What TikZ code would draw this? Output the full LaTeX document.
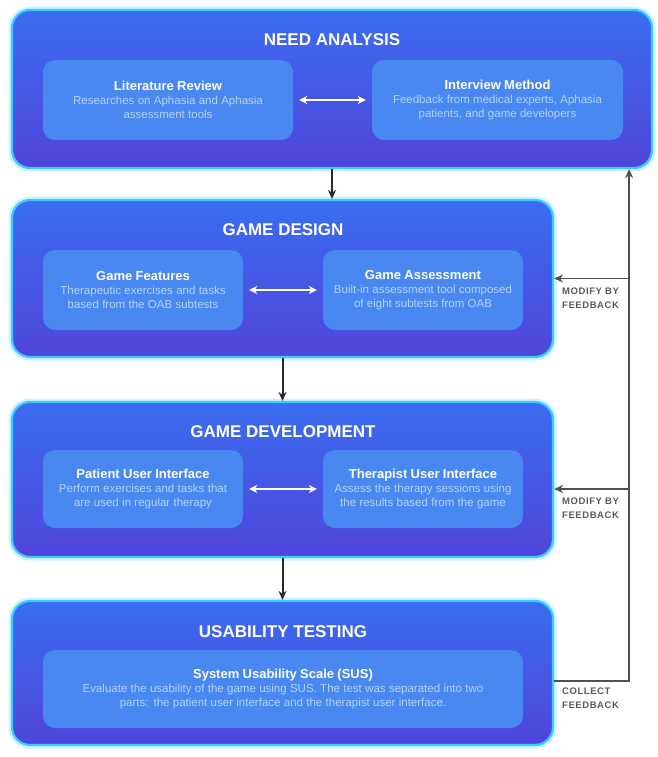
\documentclass[tikz,border=0pt]{standalone}
\usepackage{fontspec}
\setmainfont{Liberation Sans}
\usetikzlibrary{arrows.meta}
\definecolor{otop}{HTML}{3A6DF0}
\definecolor{obot}{HTML}{5044DA}
\definecolor{oborder}{HTML}{38CCFF}
\definecolor{ifill}{HTML}{4888F0}
\definecolor{desc}{HTML}{B4D3FF}
\definecolor{arr}{HTML}{2A2A2A}
\definecolor{fbc}{HTML}{505050}
\definecolor{lbl}{HTML}{5A5A5A}
\newcommand{\ibox}[2]{{\fontsize{13}{15}\selectfont\bfseries #1\par}\vspace{0.5pt}{\fontsize{11.5}{13.5}\selectfont\color{desc}#2\par}}
\tikzset{
 outer/.style={rounded corners=18pt, top color=otop, bottom color=obot, draw=oborder, line width=2.2pt,
   preaction={draw=oborder!70, line width=7pt, opacity=0.35}},
 inner/.style={rounded corners=12pt, fill=ifill, inner sep=0pt, align=center, text=white},
 otitle/.style={text=white, font=\fontsize{17}{20}\selectfont\bfseries},
 darr/.style={{Stealth[length=8pt,width=8pt]}-{Stealth[length=8pt,width=8pt]}, white, line width=2pt, shorten <=6pt, shorten >=6pt},
 varr/.style={-{Stealth[length=9pt,width=8pt]}, arr, line width=2pt},
 fb/.style={fbc, line width=1.7pt},
 fbtip/.style={-{Stealth[length=9pt,width=8pt]}},
 fbl/.style={text=lbl, font=\fontsize{9.5}{14}\selectfont\bfseries\addfontfeatures{LetterSpace=6}, align=left, anchor=north west, inner sep=0pt}
}
\begin{document}
\begin{tikzpicture}[x=1pt,y=-1pt]
\useasboundingbox (0,0) rectangle (657,757);
% outer boxes
\node[outer, minimum width=640pt, minimum height=158pt] (na) at (332,89) {};
\node[outer, minimum width=541pt, minimum height=157pt] (gd) at (282.5,278.5) {};
\node[outer, minimum width=541pt, minimum height=155pt] (gdev) at (282.5,479.5) {};
\node[outer, minimum width=541pt, minimum height=144pt] (ut) at (282.5,673) {};
% titles
\node[otitle] (t1) at (332,40) {NEED ANALYSIS};
\node[otitle] (t2) at (283,230) {GAME DESIGN};
\node[otitle] (t3) at (283,432) {GAME DEVELOPMENT};
\node[otitle] (t4) at (283,632) {USABILITY TESTING};
% inner boxes
\node[inner, minimum width=250pt, minimum height=80pt, text width=240pt] (lr) at (168,100)
  {\ibox{Literature Review}{Researches on Aphasia and Aphasia\\assessment tools}};
\node[inner, minimum width=251pt, minimum height=80pt, text width=241pt] (im) at (497.5,100)
  {\ibox{Interview Method}{Feedback from medical experts, Aphasia\\patients, and game developers}};
\node[inner, minimum width=200pt, minimum height=80pt, text width=194pt] (gf) at (143,290)
  {\ibox{Game Features}{Therapeutic exercises and tasks\\based from the OAB subtests}};
\node[inner, minimum width=200pt, minimum height=80pt, text width=194pt] (ga) at (423,290)
  {\ibox{Game Assessment}{Built-in assessment tool composed\\of eight subtests from OAB}};
\node[inner, minimum width=200pt, minimum height=78pt, text width=194pt] (pu) at (143,489)
  {\ibox{Patient User Interface}{Perform exercises and tasks that\\are used in regular therapy}};
\node[inner, minimum width=200pt, minimum height=78pt, text width=194pt] (tu) at (423,489)
  {\ibox{Therapist User Interface}{Assess the therapy sessions using\\the results based from the game}};
\node[inner, minimum width=480pt, minimum height=78pt, text width=470pt] (sus) at (283,689)
  {\ibox{System Usability Scale (SUS)}{Evaluate the usability of the game using SUS. The test was separated into two\\parts: the patient user interface and the therapist user interface.}};
% double arrows
\draw[darr] (lr.east) -- (im.west);
\draw[darr] (gf.east) -- (ga.west);
\draw[darr] (pu.east) -- (tu.west);
% vertical arrows
\draw[varr] (na.south) -- (na.south |- gd.north);
\draw[varr] (gd.south) -- (gdev.north);
\draw[varr] (gdev.south) -- (ut.north);
% feedback loop
\draw[fb, fbtip] ([yshift=-8pt]ut.east) -- ++(75,0) coordinate (fbc1) -- (fbc1 |- na.south);
\draw[fb, fbtip] (fbc1 |- gd.east) -- (gd.east);
\coordinate (b2) at (628,489);
\draw[fb, fbtip] (b2) -- (b2 -| gdev.east);
% labels
\node[fbl] (l1) at (562,288) {MODIFY BY\\FEEDBACK};
\node[fbl] (l2) at (562,498) {MODIFY BY\\FEEDBACK};
\node[fbl] (l3) at (562,688) {COLLECT\\FEEDBACK};
\end{tikzpicture}
\end{document}
